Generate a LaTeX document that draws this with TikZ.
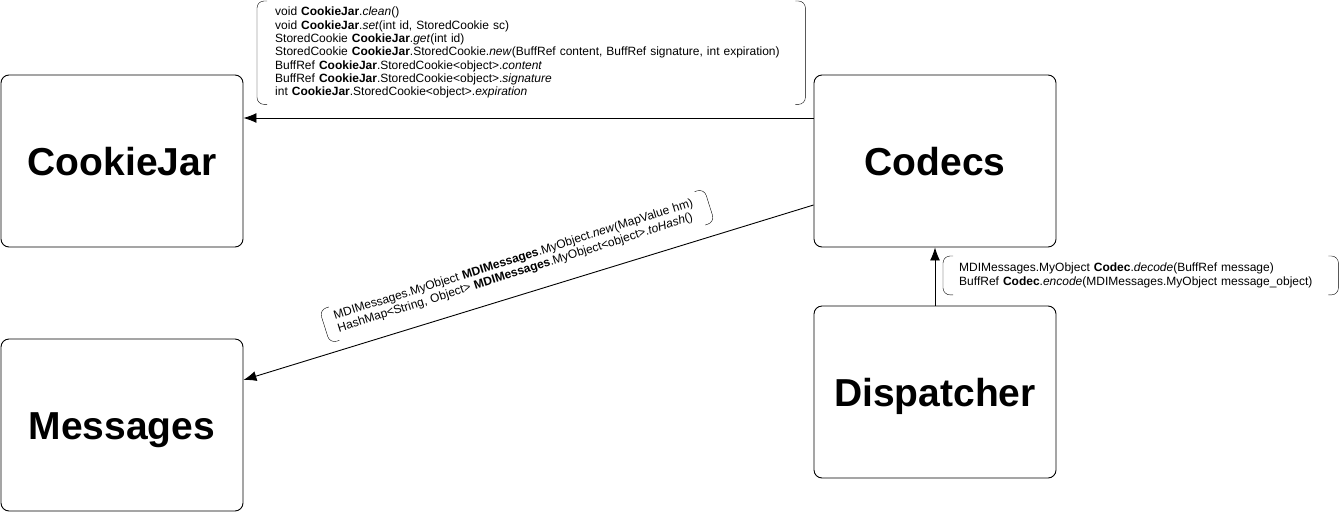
\documentclass[tikz,border=0pt]{standalone}
\usepackage{fontspec}
\setmainfont{Liberation Sans}
\usetikzlibrary{arrows.meta,calc}

\newcommand\drawbrackets[1]{%
    \draw[rounded corners=7pt] ($(#1.north west)!10pt!(#1.north east)$) -- (#1.north west) -- (#1.south west) -- ($(#1.south west)!10pt!(#1.south east)$);
    \draw[rounded corners=7pt] ($(#1.north east)!10pt!(#1.north west)$) -- (#1.north east) -- (#1.south east) -- ($(#1.south east)!10pt!(#1.south west)$);}

\begin{document}
\begin{tikzpicture}[x=1pt,y=-1pt,
    module/.style={draw,line width=0.9pt,rounded corners=8pt,minimum width=242pt,minimum height=172pt,text height=28pt,text depth=0pt,font=\fontsize{39}{47}\selectfont\bfseries},
    opsbox/.style={align=left,font=\fontsize{12}{13.3}\selectfont,inner xsep=18pt,inner ysep=6pt},
    conn/.style={line width=0.9pt,-{Latex[length=13pt,width=10pt]}}]
    \useasboundingbox (0,0) rectangle (1339,512);

    \node[module] (jar) at (122,161) {CookieJar};
    \node[module] (codecs) at (935,161) {Codecs};
    \node[module] (msgs) at (122,425) {Messages};
    \node[module] (disp) at (935,392) {Dispatcher};

    \node[opsbox,anchor=north west,text width=512pt] (jarops) at (257,1) {%
        void \textbf{CookieJar}.\textit{clean}()\\
        void \textbf{CookieJar}.\textit{set}(int id, StoredCookie sc)\\
        StoredCookie \textbf{CookieJar}.\textit{get}(int id)\\
        StoredCookie \textbf{CookieJar}.StoredCookie.\textit{new}(BuffRef content, BuffRef signature, int expiration)\\
        BuffRef \textbf{CookieJar}.StoredCookie<object>.\textit{content}\\
        BuffRef \textbf{CookieJar}.StoredCookie<object>.\textit{signature}\\
        int \textbf{CookieJar}.StoredCookie<object>.\textit{expiration}};
    \drawbrackets{jarops}

    \node[opsbox,anchor=north west,inner xsep=16pt,inner ysep=7pt,text width=363pt] (codecops) at (943,256) {%
        MDIMessages.MyObject \textbf{Codec}.\textit{decode}(BuffRef message)\\
        BuffRef \textbf{Codec}.\textit{encode}(MDIMessages.MyObject message\_object)};
    \drawbrackets{codecops}

    \node[opsbox,rotate=17.5,inner xsep=12pt,inner ysep=5pt,text width=379pt] (msgops) at (517,266) {%
        MDIMessages.MyObject \textbf{MDIMessages}.MyObject.\textit{new}(MapValue hm)\\
        HashMap<String, Object> \textbf{MDIMessages}.MyObject<object>.\textit{toHash}()};
    \drawbrackets{msgops}

    \draw[conn] ([yshift=43pt]codecs.west) -- ([yshift=43pt]jar.east);
    \draw[conn] ([yshift=-44pt]codecs.west) -- ([yshift=45pt]msgs.east);
    \draw[conn] (disp.north) -- (codecs.south);
\end{tikzpicture}
\end{document}
